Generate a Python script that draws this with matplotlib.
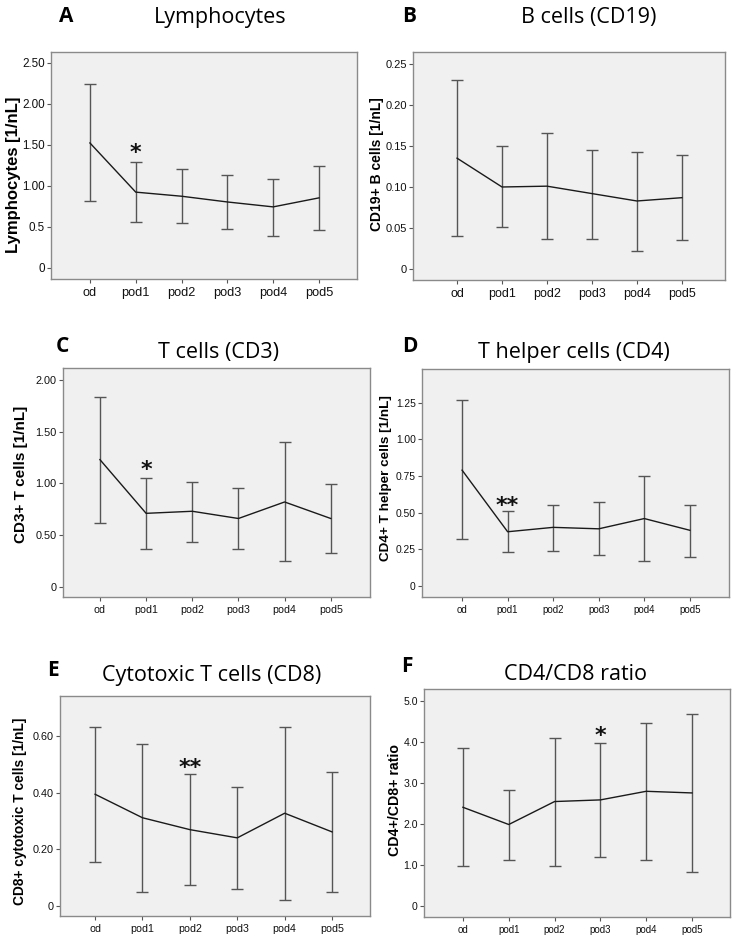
import matplotlib.pyplot as plt

days = ['od', 'pod1', 'pod2', 'pod3', 'pod4', 'pod5']

# mean and error bar ends
lymph_mean = [1.52, 0.92, 0.87, 0.80, 0.74, 0.85]
lymph_low = [0.81, 0.55, 0.54, 0.47, 0.39, 0.46]
lymph_high = [2.24, 1.29, 1.20, 1.13, 1.08, 1.24]

b_mean = [0.135, 0.100, 0.101, 0.092, 0.083, 0.087]
b_low = [0.041, 0.051, 0.037, 0.037, 0.022, 0.035]
b_high = [0.230, 0.150, 0.166, 0.145, 0.142, 0.139]

t_mean = [1.23, 0.71, 0.73, 0.66, 0.82, 0.66]
t_low = [0.62, 0.36, 0.43, 0.36, 0.25, 0.33]
t_high = [1.84, 1.05, 1.01, 0.96, 1.40, 0.99]

th_mean = [0.79, 0.37, 0.40, 0.39, 0.46, 0.38]
th_low = [0.32, 0.23, 0.24, 0.21, 0.17, 0.20]
th_high = [1.27, 0.51, 0.555, 0.57, 0.75, 0.55]

tc_mean = [0.394, 0.311, 0.269, 0.240, 0.327, 0.261]
tc_low = [0.156, 0.048, 0.073, 0.058, 0.022, 0.048]
tc_high = [0.631, 0.572, 0.467, 0.419, 0.633, 0.474]

ratio_mean = [2.40, 1.98, 2.54, 2.58, 2.79, 2.75]
ratio_low = [0.98, 1.11, 0.98, 1.19, 1.12, 0.81]
ratio_high = [3.85, 2.83, 4.09, 3.97, 4.45, 4.67]

# the six panels were pasted at slightly different scales, so font sizes differ
panels = [
    dict(letter='A', title='Lymphocytes', ylabel='Lymphocytes [1/nL]',
         mean=lymph_mean, low=lymph_low, high=lymph_high,
         ticks=[0, 0.5, 1.0, 1.5, 2.0, 2.5],
         ticklabels=['0', '0.5', '1.00', '1.50', '2.00', '2.50'],
         ylim=(-0.14, 2.63), xlim=(-0.85, 5.83), star=(1, 1.40, '*'),
         box=(51, 52, 357, 279), letter_xy=(66, 17), title_xy=(220, 17),
         lab_fs=12, lab_xy=(16, 175), xt_fs=9.2, yt_fs=8.4),
    dict(letter='B', title='B cells (CD19)', ylabel='CD19+ B cells [1/nL]',
         mean=b_mean, low=b_low, high=b_high,
         ticks=[0, 0.05, 0.10, 0.15, 0.20, 0.25],
         ticklabels=['0', '0.05', '0.10', '0.15', '0.20', '0.25'],
         ylim=(-0.013, 0.264), xlim=(-0.98, 5.96), star=None,
         box=(413, 52, 725, 280), letter_xy=(409, 17), title_xy=(589, 17),
         lab_fs=10, lab_xy=(382, 164), xt_fs=9.0, yt_fs=8.0),
    dict(letter='C', title='T cells (CD3)', ylabel='CD3+ T cells [1/nL]',
         mean=t_mean, low=t_low, high=t_high,
         ticks=[0, 0.5, 1.0, 1.5, 2.0],
         ticklabels=['0', '0.50', '1.00', '1.50', '2.00'],
         ylim=(-0.10, 2.117), xlim=(-0.8, 5.85), star=(1, 1.13, '*'),
         box=(63, 368, 370, 597), letter_xy=(62, 346), title_xy=(218, 352),
         lab_fs=11, lab_xy=(21, 474), xt_fs=7.7, yt_fs=7.8),
    dict(letter='D', title='T helper cells (CD4)', ylabel='CD4+ T helper cells [1/nL]',
         mean=th_mean, low=th_low, high=th_high,
         ticks=[0, 0.25, 0.5, 0.75, 1.0, 1.25],
         ticklabels=['0', '0.25', '0.50', '0.75', '1.00', '1.25'],
         ylim=(-0.075, 1.48), xlim=(-0.88, 5.86), star=(1, 0.545, '**'),
         box=(422, 369, 729, 597), letter_xy=(410, 346), title_xy=(574, 352),
         lab_fs=9.7, lab_xy=(386, 478), xt_fs=7.0, yt_fs=7.4),
    dict(letter='E', title='Cytotoxic T cells (CD8)', ylabel='CD8+ cytotoxic T cells [1/nL]',
         mean=tc_mean, low=tc_low, high=tc_high,
         ticks=[0, 0.2, 0.4, 0.6],
         ticklabels=['0', '0.20', '0.40', '0.60'],
         ylim=(-0.036, 0.741), xlim=(-0.74, 5.8), star=(2, 0.485, '**'),
         box=(60, 696, 370, 916), letter_xy=(53, 670), title_xy=(212, 675),
         lab_fs=9.9, lab_xy=(20, 811), xt_fs=7.7, yt_fs=7.8),
    dict(letter='F', title='CD4/CD8 ratio', ylabel='CD4+/CD8+ ratio',
         mean=ratio_mean, low=ratio_low, high=ratio_high,
         ticks=[0, 1, 2, 3, 4, 5],
         ticklabels=['0', '1.0', '2.0', '3.0', '4.0', '5.0'],
         ylim=(-0.276, 5.285), xlim=(-0.85, 5.83), star=(3, 4.15, '*'),
         box=(424, 689, 730, 917), letter_xy=(407, 667), title_xy=(576, 675),
         lab_fs=10.2, lab_xy=(399, 800), xt_fs=7.0, yt_fs=7.6),
]

W, H = 734, 943
fig = plt.figure(figsize=(W / 100, H / 100), dpi=100)
fig.patch.set_facecolor('white')

axes = []
for p in panels:
    l, t, r, b = p['box']
    ax = fig.add_axes([l / W, 1 - b / H, (r - l) / W, (b - t) / H])
    axes.append(ax)
    ax.set_facecolor('#f0f0f0')
    for s in ax.spines.values():
        s.set_color('#8a8a8a')
        s.set_linewidth(1.0)

    x = range(len(days))
    lo = [m - v for m, v in zip(p['mean'], p['low'])]
    hi = [v - m for m, v in zip(p['mean'], p['high'])]
    ax.errorbar(x, p['mean'], yerr=[lo, hi], fmt='none', ecolor='#555555',
                elinewidth=1.0, capsize=4, capthick=1.0)
    ax.plot(x, p['mean'], color='#1a1a1a', lw=1.0)

    if p['star']:
        i, y, s = p['star']
        ax.text(i, y, s, ha='center', va='center', fontsize=16,
                fontweight='bold', family='DejaVu Sans', color='#111111')

    ax.set_xlim(*p['xlim'])
    ax.set_ylim(*p['ylim'])
    ax.set_xticks(list(x))
    ax.set_xticklabels(days)
    ax.set_yticks(p['ticks'])
    ax.set_yticklabels(p['ticklabels'])
    ax.tick_params(length=3, width=0.8, color='#555555',
                   labelcolor='#111111', pad=2)
    ax.tick_params(axis='x', labelsize=p['xt_fs'], pad=3)
    ax.tick_params(axis='y', labelsize=p['yt_fs'], pad=1.5)
    for lab in ax.get_xticklabels() + ax.get_yticklabels():
        lab.set_family('Liberation Sans')

    ax.set_ylabel(p['ylabel'], fontsize=p['lab_fs'], fontweight='bold',
                  family='Liberation Sans', va='center')
    lx, ly = p['lab_xy']
    ax.yaxis.set_label_coords((lx - l) / (r - l), (b - ly) / (b - t))

    fig.text(p['letter_xy'][0] / W, 1 - p['letter_xy'][1] / H, p['letter'],
             ha='center', va='center', fontsize=15, fontweight='bold',
             family='Open Sans')
    fig.text(p['title_xy'][0] / W, 1 - p['title_xy'][1] / H, p['title'],
             ha='center', va='center', fontsize=15.5, family='Open Sans')

# nudge a y label left if it touches the tick numbers
fig.canvas.draw()
rend = fig.canvas.get_renderer()
for ax, p in zip(axes, panels):
    l, t, r, b = p['box']
    lab_box = ax.yaxis.label.get_window_extent(rend)
    tick_left = min(tl.get_window_extent(rend).x0 for tl in ax.get_yticklabels())
    gap = tick_left - lab_box.x1
    if gap < 1.5:
        lx, ly = p['lab_xy']
        lx = lx - (1.5 - gap)
        ax.yaxis.set_label_coords((lx - l) / (r - l), (b - ly) / (b - t))

fig.savefig('out.png', dpi=100)
